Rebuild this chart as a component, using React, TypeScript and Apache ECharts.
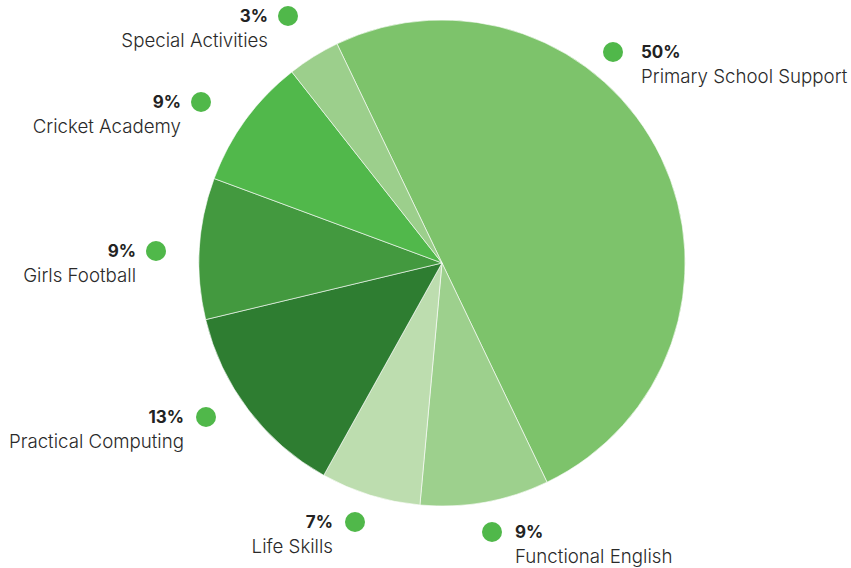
import React, { useEffect, useRef } from "react";
import * as echarts from "echarts";

const categories = [
  "Primary School Support",
  "Functional English",
  "Life Skills",
  "Practical Computing",
  "Girls Football",
  "Cricket Academy",
  "Special Activities",
];
const values = [50, 8.56, 6.64, 13.17, 9.39, 8.75, 3.49];
const colors = ["#7dc36b", "#9dd08d", "#bdddaf", "#2e7d31", "#43993f", "#51b84b", "#9ccf8c"];

// label placement: side of the dot, anchor x (outer edge of dot), first-line center y, gap
const labelPlaces = [
  { side: "right", x: 603, y: 52, gap: 18 },
  { side: "right", x: 482, y: 532, gap: 13 },
  { side: "left", x: 365, y: 522, gap: 12 },
  { side: "left", x: 216, y: 417, gap: 12 },
  { side: "left", x: 166, y: 251, gap: 10 },
  { side: "left", x: 211, y: 102, gap: 10 },
  { side: "left", x: 298, y: 16, gap: 10 },
];

export default function App() {
  const ref = useRef<HTMLDivElement>(null);
  useEffect(() => {
    if (!ref.current) return;
    const chart = echarts.init(ref.current, null, { renderer: "svg" });
    const total = values.reduce((a, b) => a + b, 0);
    const data = categories.map((name, i) => {
      const p = labelPlaces[i];
      const pct = Math.round((values[i] / total) * 100) + "%";
      const fmt =
        p.side === "left"
          ? `{p|${pct}}{g${i}|}{d|}\n{n|${name}}{s${i}|}`
          : `{d|}{g${i}|}{p|${pct}}\n{s${i}|}{n|${name}}`;
      const rich: any = {
        p: { fontFamily: "Inter", fontSize: 17, fontWeight: 700, color: "#222", lineHeight: 24 },
        n: { fontFamily: "Inter", fontSize: 18.7, fontWeight: 300, color: "#2a2a2a", lineHeight: 24 },
        d: { width: 20, height: 20, borderRadius: 10, backgroundColor: "#50b84a", lineHeight: 24 },
      };
      rich["g" + i] = { width: p.gap, lineHeight: 24 };
      rich["s" + i] = { width: p.gap + 20, lineHeight: 24 };
      return {
        name,
        value: values[i],
        itemStyle: { color: colors[i] },
        label: { formatter: fmt, rich, align: p.side === "left" ? "right" : "left" },
      };
    });
    chart.setOption({
      animation: false,
      series: [
        {
          type: "pie",
          center: [442, 263],
          radius: 243,
          startAngle: 115.6,
          clockwise: true,
          data,
          itemStyle: { borderColor: "#ffffff", borderWidth: 0.6 },
          label: { show: true, position: "outside", alignTo: "none", overflow: "none", width: 400 },
          labelLine: { show: false },
          labelLayout: (params: any) => {
            const p = labelPlaces[params.dataIndex];
            return {
              x: p.x,
              y: p.y - 12,
              align: p.side === "left" ? "right" : "left",
              verticalAlign: "top",
              hideOverlap: false,
            };
          },
          emphasis: { disabled: true },
        },
      ],
    });
    return () => chart.dispose();
  }, []);
  return (
    <div
      ref={ref}
      style={{ position: "fixed", left: 0, top: 0, width: 851, height: 568, background: "#fff" }}
    />
  );
}
